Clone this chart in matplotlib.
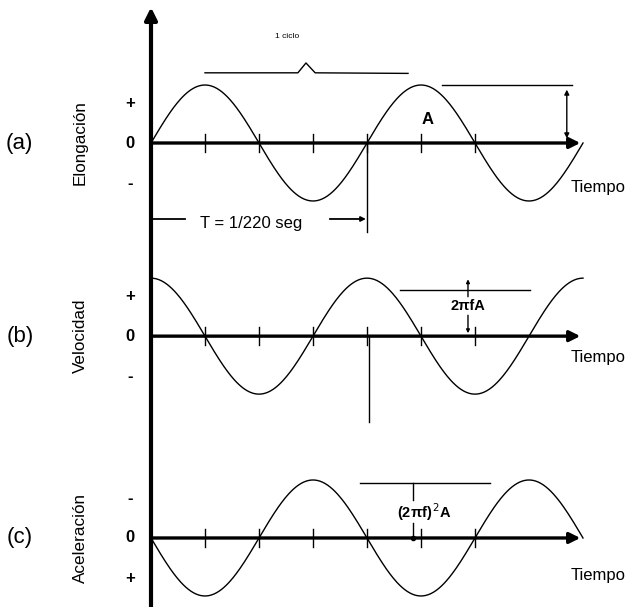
import numpy as np
import matplotlib
matplotlib.use("Agg")
import matplotlib.pyplot as plt

plt.rcParams['font.family'] = ['Liberation Sans', 'DejaVu Sans']

# time measured in quarter periods, amplitude in units of A
n_quarters = 8
tick_quarters = [1, 2, 3, 4, 5, 6]
panel_tags = ["(a)", "(b)", "(c)"]
panel_names = ["Elongación", "Velocidad", "Aceleración"]
panel_signs = [("+", "0", "-"), ("+", "0", "-"), ("-", "0", "+")]
panel_phase = [0.0, 0.5, 1.0]        # in units of pi: sin, cos, -sin
panel_base = [0.0, -3.33, -6.81]     # vertical offsets of the three panels
amp_labels = ["A", "2πfA", "(2πf)$^{\\,2}$A"]

fig = plt.figure(figsize=(6.27, 6.07), dpi=100)
ax = fig.add_axes([0, 0, 1, 1])
ax.set_xlim(-151 / 54, 476 / 54)
ax.set_ylim(-8.0, 143 / 58)
ax.axis("off")

# common vertical axis
ax.annotate("", xy=(0, 2.34), xytext=(0, -8.0),
            arrowprops=dict(arrowstyle="-|>", lw=3, color="black",
                            mutation_scale=18, shrinkA=0, shrinkB=0))

t = np.linspace(0, n_quarters, 500)
for i in range(3):
    b = panel_base[i]
    y = np.sin(t * np.pi / 2 + panel_phase[i] * np.pi)
    ax.plot(t, y + b, color="black", lw=1.0)

    # time axis with arrow
    ax.annotate("", xy=(7.95, b), xytext=(0, b),
                arrowprops=dict(arrowstyle="-|>", lw=2.4, color="black",
                                mutation_scale=16, shrinkA=0, shrinkB=0))
    for q in tick_quarters:
        ax.plot([q, q], [b - 0.16, b + 0.16], color="black", lw=1.0)

    ax.text(-2.43, b, panel_tags[i], fontsize=16, ha="center", va="center")
    ax.text(-1.31, b, panel_names[i], fontsize=12.3, rotation=90,
            ha="center", va="center")
    top, mid, bot = panel_signs[i]
    ax.text(-0.39, b + 0.68, top, fontsize=12, weight="bold",
            ha="center", va="center")
    ax.text(-0.39, b, mid, fontsize=12, weight="bold", ha="center", va="center")
    ax.text(-0.39, b - 0.70, bot, fontsize=12, weight="bold",
            ha="center", va="center")

ax.text(8.28, -0.76, "Tiempo", fontsize=12, ha="center", va="center")
ax.text(8.28, panel_base[1] - 0.36, "Tiempo", fontsize=12, ha="center", va="center")
ax.text(8.28, panel_base[2] - 0.64, "Tiempo", fontsize=12, ha="center", va="center")

# (a) one cycle brace
ax.plot([1.0, 2.72, 2.87, 3.04, 4.76], [1.21, 1.21, 1.38, 1.21, 1.20],
        color="black", lw=1.0)
ax.text(2.52, 1.83, "1 ciclo", fontsize=6, ha="center", va="center")

# (a) amplitude A
ax.plot([5.39, 7.80], [1.0, 1.0], color="black", lw=1.0)
ax.annotate("", xy=(7.70, 0.92), xytext=(7.70, 0.08),
            arrowprops=dict(arrowstyle="<|-|>", lw=1.0, color="black",
                            mutation_scale=7, shrinkA=0, shrinkB=0))
ax.text(5.13, 0.41, amp_labels[0], fontsize=12, weight="bold",
        ha="center", va="center")

# (a) period T
ax.plot([4.0, 4.0], [0, -1.53], color="black", lw=1.0)
ax.plot([0, 0.63], [-1.31, -1.31], color="black", lw=1.3)
ax.annotate("", xy=(3.98, -1.31), xytext=(3.31, -1.31),
            arrowprops=dict(arrowstyle="-|>", lw=1.3, color="black",
                            mutation_scale=7, shrinkA=0, shrinkB=0))
ax.text(1.85, -1.38, "T = 1/220 seg", fontsize=12, ha="center", va="center")

# (b) velocity amplitude
b = panel_base[1]
ax.plot([4.04, 4.04], [b, b - 1.48], color="black", lw=1.0)
ax.plot([4.61, 7.02], [b + 0.79, b + 0.79], color="black", lw=1.0)
ax.annotate("", xy=(5.87, b + 0.98), xytext=(5.87, b + 0.68),
            arrowprops=dict(arrowstyle="-|>", lw=1.0, color="black",
                            mutation_scale=5, shrinkA=0, shrinkB=0))
ax.annotate("", xy=(5.87, b + 0.05), xytext=(5.87, b + 0.36),
            arrowprops=dict(arrowstyle="-|>", lw=1.0, color="black",
                            mutation_scale=5, shrinkA=0, shrinkB=0))
ax.text(5.87, b + 0.52, amp_labels[1], fontsize=10.5, weight="bold",
        ha="center", va="center")

# (c) acceleration amplitude
c = panel_base[2]
ax.plot([3.87, 6.28], [c + 0.95, c + 0.95], color="black", lw=1.0)
ax.plot([4.85, 4.85], [c + 0.95, c + 0.66], color="black", lw=1.0)
ax.plot([4.85, 4.85], [c + 0.25, c], color="black", lw=1.0)
ax.plot([4.85], [c], marker="o", ms=3, color="black")
ax.text(5.07, c + 0.45, amp_labels[2], fontsize=10.5, weight="bold",
        ha="center", va="center")

fig.savefig("out.png", dpi=100)
